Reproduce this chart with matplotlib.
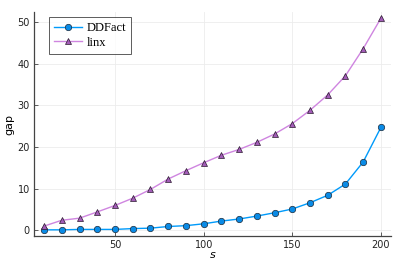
import numpy as np
import matplotlib
matplotlib.use("Agg")
import matplotlib.pyplot as plt

# sizes s
s = [10, 20, 30, 40, 50, 60, 70, 80, 90, 100, 110, 120, 130, 140, 150, 160, 170, 180, 190, 200]

# gap values
ddfact = [0.1, 0.1, 0.2, 0.2, 0.2, 0.4, 0.5, 0.9, 1.1, 1.55, 2.2, 2.7, 3.4, 4.2, 5.1, 6.6, 8.4, 11.1, 16.4, 24.7]
linx = [1.0, 2.4, 2.9, 4.4, 5.95, 7.7, 9.8, 12.3, 14.3, 16.2, 18.0, 19.4, 21.1, 23.1, 25.6, 28.8, 32.5, 37.1, 43.6, 50.9]

fig = plt.figure(figsize=(3.99, 2.66), dpi=100)
ax = fig.add_axes([0.0852, 0.1117, 0.8948, 0.8433])

ax.plot(s, ddfact, color="#009afa", lw=1.0, marker="o", ms=4.6,
        mfc="#0a8be6", mec="#1a2a3a", mew=0.5, label="DDFact")
ax.plot(s, linx, color="#cf85e0", lw=1.0, marker="^", ms=4.6,
        mfc="#a35cb8", mec="#2a1a2e", mew=0.5, label="linx")

ax.set_xlim(4.3, 205.7)
ax.set_ylim(-1.45, 52.4)
ax.set_xticks([50, 100, 150, 200])
ax.set_yticks([0, 10, 20, 30, 40, 50])
ax.grid(True, color="#ececec", lw=0.6)
ax.set_axisbelow(True)
for side in ["top", "right"]:
    ax.spines[side].set_visible(False)
for side in ["left", "bottom"]:
    ax.spines[side].set_color("#444444")
    ax.spines[side].set_linewidth(0.9)
ax.tick_params(direction="in", length=3, width=0.6, color="#444444",
               labelsize=7, labelcolor="#222222", pad=3)

ax.set_xlabel("$s$", fontsize=8, labelpad=0)
ax.set_ylabel("gap", fontsize=8, labelpad=2)

leg = ax.legend(loc="upper left", bbox_to_anchor=(0.025, 1.005),
                prop={"family": "Liberation Serif", "size": 9},
                frameon=True, fancybox=False, edgecolor="#333333",
                handlelength=2.2, borderpad=0.4, labelspacing=0.2, handletextpad=0.4)
leg.get_frame().set_linewidth(0.7)

fig.savefig("out.png", dpi=100)
